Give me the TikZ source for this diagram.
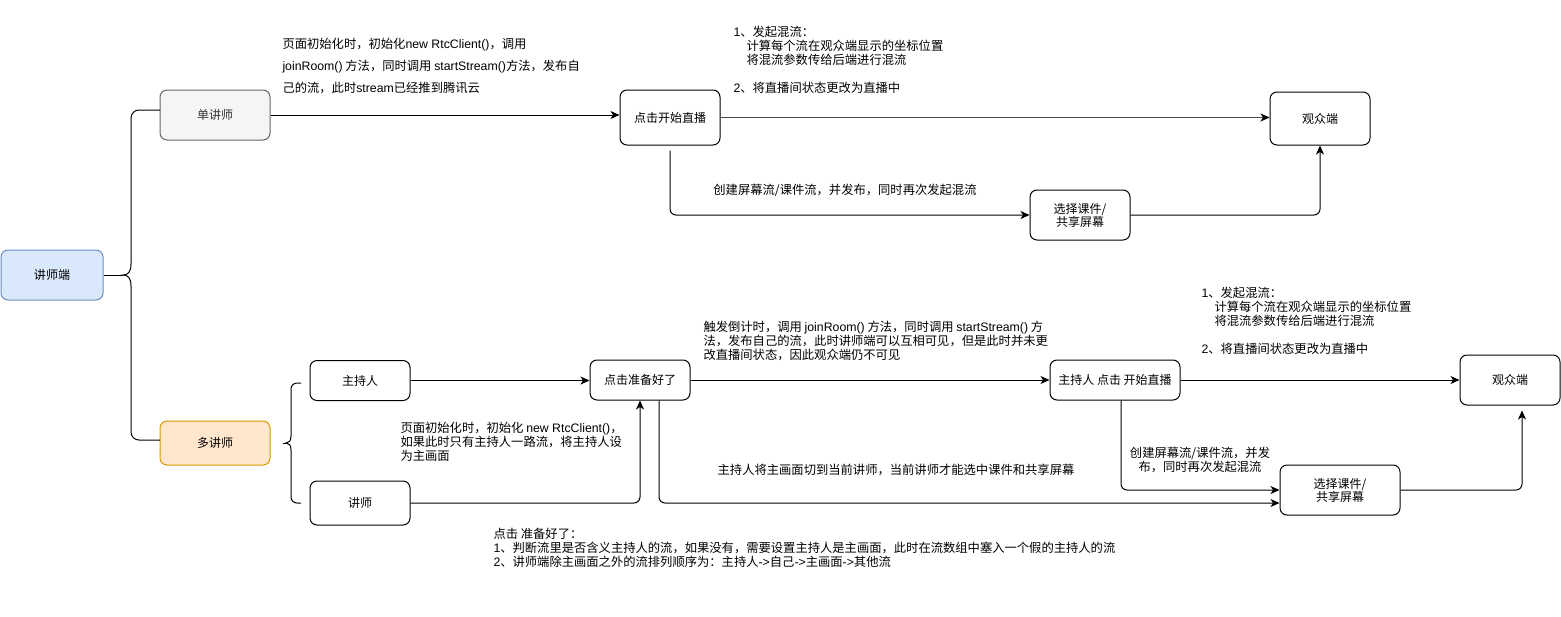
\documentclass[tikz,border=0pt]{standalone}
\usepackage{fontspec}
\setmainfont{Noto Sans CJK SC}
\newfontfamily\lat{Liberation Sans}
\usetikzlibrary{arrows.meta,positioning}

\definecolor{teacherfill}{HTML}{DAE8FC}
\definecolor{teacherline}{HTML}{6C8EBF}
\definecolor{singlefill}{HTML}{F5F5F5}
\definecolor{singleline}{HTML}{666666}
\definecolor{singletext}{HTML}{333333}
\definecolor{multifill}{HTML}{FFE6CC}
\definecolor{multiline}{HTML}{D79B00}

\tikzset{
  box/.style={draw,rounded corners=7pt,minimum width=100pt,minimum height=50pt,
    align=center,inner sep=2pt,font=\fontsize{12}{13}\selectfont},
  note/.style={align=left,inner sep=0pt,font=\fontsize{12.3}{14}\selectfont},
  flow/.style={-{Stealth[length=9pt,width=8pt,inset=2.5pt,black]},rounded corners=6pt},
}

\begin{document}
\begin{tikzpicture}[x=1pt,y=-1pt,line width=1pt]
\fill[white] (0,0) rectangle (1561,616);
\useasboundingbox (0,0) rectangle (1561,616);

% lecturer side and its two modes
\node[box,fill=teacherfill,draw=teacherline,minimum width=102pt] (teacher) at (52,275) {讲师端};
\node[box,fill=singlefill,draw=singleline,text=singletext,minimum width=110pt] (single) at (215,115) {单讲师};
\node[box,fill=multifill,draw=multiline,minimum width=110pt,minimum height=44pt] (multi) at (215,443) {多讲师};

% brace from 讲师端
\draw (teacher.east) -- (123,275);
\draw[rounded corners=8pt] (160,110) -- (131,110) -- (131,264);
\draw (131,264) .. controls (131,272) and (128,275) .. (123,275) .. controls (128,275) and (131,278) .. (131,286);
\draw[rounded corners=8pt] (131,286) -- (131,440) -- (160,440);

% single lecturer
\node[box] (startA) at (670,117.5) [minimum height=55pt] {点击开始直播};
\node[box] (viewA) at (1320,118.5) [minimum height=53pt] {观众端};
\node[box] (shareA) at (1080,215) {选择课件/\\共享屏幕};

\node[note,anchor=west,font=\fontsize{12.3}{22}\selectfont] (initA) at (282,66)
  {页面初始化时，初始化{\lat new RtcClient()}，调用\\{\lat joinRoom()} 方法，同时调用 {\lat startStream()}方法，发布自\\己的流，此时{\lat stream}已经推到腾讯云};
\node[note,anchor=west] (mixA) at (733,60)
  {{\lat 1}、发起混流：\\\hspace*{13pt}计算每个流在观众端显示的坐标位置\\\hspace*{13pt}将混流参数传给后端进行混流\\[14pt]{\lat 2}、将直播间状态更改为直播中};
\node[note] (createA) at (845,190) {创建屏幕流/课件流，并发布，同时再次发起混流};

\draw[flow] (single.east) -- (single.east -| startA.west);
\draw[flow,draw=black!70] (startA.east) -- (startA.east -| viewA.west);
\draw[flow] ([yshift=-5pt]startA.south) |- (shareA.west);
\draw[flow] (shareA.east) -| (viewA.south);

% brace from 多讲师
\draw (283,443) -- (286,443);
\draw[rounded corners=6pt] (301,383) -- (291,383) -- (291,436);
\draw (291,436) .. controls (291,441) and (289,443) .. (286,443) .. controls (289,443) and (291,445) .. (291,450);
\draw[rounded corners=6pt] (291,450) -- (291,503) -- (301,503);

% multi lecturer
\node[box,minimum height=40pt] (host) at (360,380.5) {主持人};
\node[box,minimum height=44pt] (lect) at (360,503) {讲师};
\node[box,minimum height=40pt] (ready) at (640,380) {点击准备好了};
\node[box,minimum width=130pt,minimum height=40pt] (startB) at (1115,380) {主持人 点击 开始直播};
\node[box] (viewB) at (1510,380) {观众端};
\node[box,minimum width=120pt] (shareB) at (1340,490) {选择课件/\\共享屏幕};

\node[note,anchor=west] (initB) at (400,442)
  {页面初始化时，初始化 {\lat new RtcClient()}，\\如果此时只有主持人一路流，将主持人设\\为主画面};
\node[note,anchor=west] (countB) at (703,341)
  {触发倒计时，调用 {\lat joinRoom()} 方法，同时调用 {\lat startStream()} 方\\法，发布自己的流，此时讲师端可以互相可见，但是此时并未更\\改直播间状态，因此观众端仍不可见};
\node[note,anchor=west] (mixB) at (1201,321)
  {{\lat 1}、发起混流：\\\hspace*{13pt}计算每个流在观众端显示的坐标位置\\\hspace*{13pt}将混流参数传给后端进行混流\\[14pt]{\lat 2}、将直播间状态更改为直播中};
\node[note] (switchB) at (896,470) {主持人将主画面切到当前讲师，当前讲师才能选中课件和共享屏幕};
\node[note,align=center] (createB) at (1200,460) {创建屏幕流/课件流，并发\\布，同时再次发起混流};
\node[note,anchor=west] (readyB) at (493,548)
  {点击 准备好了：\\{\lat 1}、判断流里是否含义主持人的流，如果没有，需要设置主持人是主画面，此时在流数组中塞入一个假的主持人的流\\{\lat 2}、讲师端除主画面之外的流排列顺序为：主持人{\lat ->}自己{\lat ->}主画面{\lat ->}其他流};

\draw[flow] (host.east) -- (host.east -| ready.west);
\draw[flow] (lect.east) -| (ready.south);
\draw[flow] (ready.east) -- (startB.west);
\draw[flow] ([xshift=19pt]ready.south) |- ([yshift=-13pt]shareB.west);
\draw[flow] ([xshift=6pt]startB.south) |- (shareB.west);
\draw[flow] (startB.east) -- (viewB.west);
\draw[flow] (shareB.east) -| ([xshift=12pt,yshift=-5pt]viewB.south);
\end{tikzpicture}
\end{document}
